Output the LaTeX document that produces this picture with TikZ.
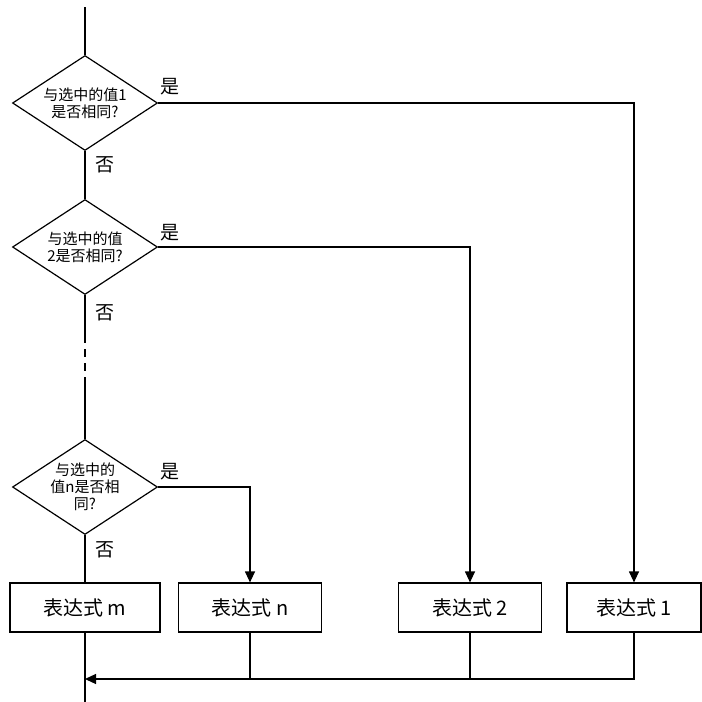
\documentclass[tikz,border=0pt]{standalone}
\usepackage{fontspec}
\setmainfont{Noto Sans CJK SC}
\usepackage{tikz}
\usetikzlibrary{shapes.geometric, arrows.meta, positioning, calc}
\tikzset{
  decision/.style={diamond, aspect=1.5, minimum width=145pt, minimum height=95pt, inner sep=0pt, align=center, draw=black, line width=1.2pt, font=\fontsize{15}{17}\selectfont},
  expr/.style={rectangle, minimum height=49pt, text centered, draw=black, line width=1.2pt, font=\fontsize{20}{22}\selectfont},
  answer/.style={font=\fontsize{19}{21}\selectfont, inner sep=0pt},
  flow/.style={line width=1.2pt},
  arrow/.style={line width=1.2pt,-{Triangle[length=11pt,width=10pt]}}
}
\begin{document}
\begin{tikzpicture}[x=1pt, y=-1pt]
\useasboundingbox (0,0) rectangle (702,702);
% DECISIONS - Left column
\coordinate (start) at (85,7);
\node[decision] (q1) at (85,103) {与选中的值1\\是否相同?};
\node[decision] (q2) at (85,247) {与选中的值\\2是否相同?};
\node[decision] (qn) at (85,487) {与选中的\\值n是否相\\同?};

% EXPRESSIONS - Bottom row
\node[expr, minimum width=150pt] (em) at (85,607.5) {表达式 m};
\node[expr, minimum width=143pt] (en) at (250,607.5) {表达式 n};
\node[expr, minimum width=143pt] (e2) at (470,607.5) {表达式 2};
\node[expr, minimum width=134pt] (e1) at (634,607.5) {表达式 1};

% Answers
\node[answer] (yes1) at (170,87) {是};
\node[answer] (no1) at (105,165) {否};
\node[answer] (yes2) at (170,233) {是};
\node[answer] (no2) at (105,313) {否};
\node[answer] (yesn) at (170,472) {是};
\node[answer] (non) at (105,550) {否};

% Main line
\coordinate (gap1) at (85,343);
\coordinate (gap2) at (85,383);
\coordinate (join) at (85,679);
\coordinate (finish) at (85,702);

\draw[flow] (start) -- (q1.north);
\draw[flow] (q1.south) -- (q2.north);
\draw[flow] (q2.south) -- (gap1);
\draw[flow, dash pattern=on 8pt off 6pt, dash phase=8pt] (gap1) -- (gap2);
\draw[flow] (gap2) -- (qn.north);
\draw[flow] (qn.south) -- (em.north);
\draw[flow] (em.south) -- (finish);

% Branches
\draw[arrow] (q1.east) -| (e1.north);
\draw[arrow] (q2.east) -| (e2.north);
\draw[arrow] (qn.east) -| (en.north);

% Merge
\draw[arrow] (e1.south) |- (join);
\draw[flow] (e2.south) -- (e2.south |- join);
\draw[flow] (en.south) -- (en.south |- join);
\end{tikzpicture}
\end{document}
